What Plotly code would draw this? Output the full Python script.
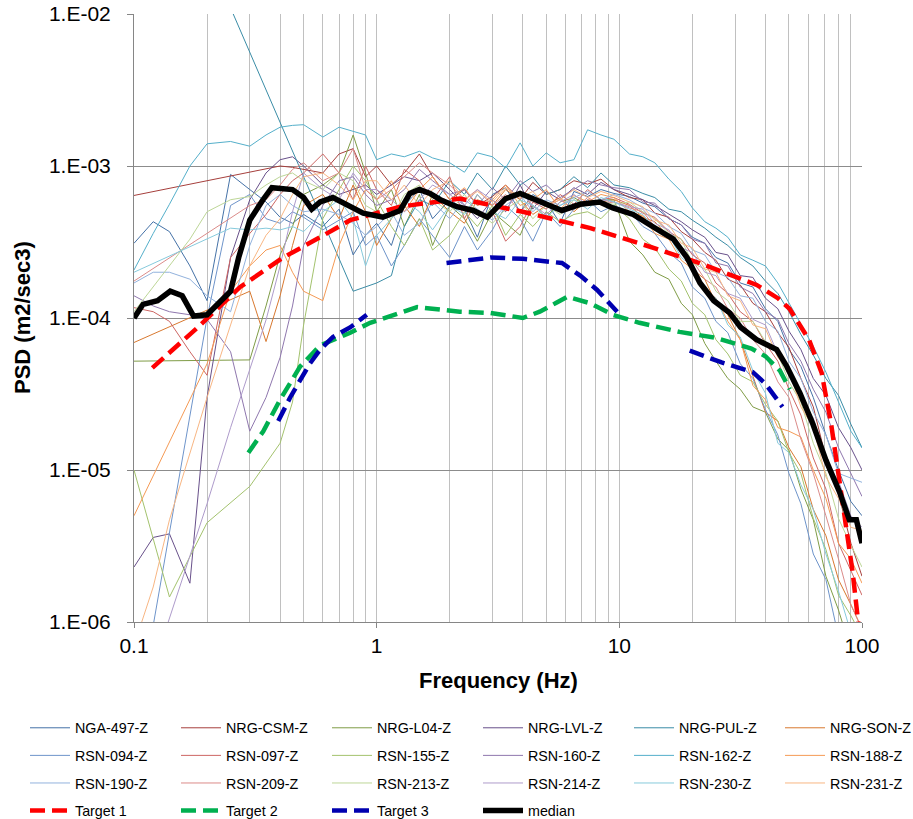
import plotly.graph_objects as go

# ---------------- data ----------------
# common frequency grid of the station spectra (Hz)
freq_hz = [0.1, 0.12, 0.14, 0.17, 0.2, 0.25, 0.3, 0.35, 0.4, 0.45,
           0.5, 0.6, 0.7, 0.8, 0.9, 1.0, 1.15, 1.3, 1.5, 1.7,
           2.0, 2.3, 2.6, 3.0, 3.4, 3.9, 4.4, 5.0, 5.7, 6.5,
           7.4, 8.4, 9.5, 11, 12.5, 14, 16, 18, 20, 22.5,
           25, 28, 31.5, 35.5, 40, 45, 50, 56, 63, 71,
           80, 90, 100]

# station PSD values in units of 1e-4 m2/sec3 (None = no sample)
psd_nga497 = [3.1, 4.3, 3.7, 2.2, 1.3, 8.8, 7.0, 5.8, 4.6, 4.2,
              4.8, 4.0, 5.2, 2.6, 3.5, 4.2, 3.0, 5.5, 7.0, 4.5,
              6.0, 5.2, 3.4, 6.5, 7.2, 5.0, 6.5, 5.8, 4.2, 6.8,
              6.3, 7.0, 6.6, 6.3, 5.7, 5.4, 4.5, 4.1, 3.4, 3.1,
              2.5, 2.3, 1.7, 1.6, 1.15, 0.95, 0.62, 0.48, 0.3, 0.17,
              0.1, 0.062, 0.05]
psd_nrgcsm = [6.4, None, None, None, None, None, None, None, 10.0, 9.8,
              9.5, 9.0, 12, 13, 8.5, 10, 7.5, 9.0, 12, 8.5,
              6.0, 7.0, 5.5, 6.3, 7.5, 6.0, 7.8, 6.5, 7.0, 8.0,
              7.6, 8.2, 7.0, 6.2, 6.0, 4.9, 4.6, 3.7, 3.3, 2.7,
              2.4, 1.8, 1.65, 1.25, 1.1, 0.8, 0.64, 0.4, 0.26, 0.12,
              0.07, 0.033, 0.02]
psd_nrgl04 = [0.52, None, None, None, None, None, 0.53, 1.2, 2.6, 4.0,
              6.5, 7.5, 9.0, 16, 9.0, 5.0, 7.0, 4.0, 6.5, 3.0,
              5.5, 4.5, 3.2, 5.0, 4.2, 3.5, 5.5, 4.6, 5.8, 6.2,
              5.5, 6.0, 6.0, 3.2, 2.6, 2.0, 1.8, 1.25, 1.05, 0.68,
              0.52, 0.4, 0.34, 0.26, 0.24, 0.16, 0.135, 0.075, 0.047, 0.02,
              0.012, 0.0065, 0.005]
psd_nrglvl = [0.023, 0.036, 0.038, 0.018, 0.3, 2.5, 6.0, 9.0, 11, 11.5,
              10, 7.5, 6.5, 7.0, 7.5, 6.5, 7.5, 8.5, 8.0, 9.0,
              7.0, 5.5, 4.5, 6.0, 5.0, 7.5, 5.2, 6.8, 6.0, 7.2,
              6.5, 7.8, 7.0, 6.5, 6.0, 5.5, 4.8, 4.3, 3.8, 3.4,
              2.7, 2.6, 1.9, 1.85, 1.35, 1.15, 0.82, 0.62, 0.4, 0.31,
              0.19, 0.14, 0.1]
psd_nrgpul = [None, None, None, None, 250, None, None, None, None, None,
              None, None, None, 1.5, None, 1.7, 1.9, 4.0, 6.0, 5.5,
              8.0, 6.5, 9.0, 7.0, 10, 7.5, 8.5, 6.5, 7.0, 8.5,
              7.2, 9.0, 7.5, 7.2, 6.6, 6.2, 5.2, 5.0, 4.4, 3.9,
              3.4, 3.0, 2.5, 2.2, 1.75, 1.45, 1.1, 0.78, 0.57, 0.4,
              0.31, 0.2, 0.14]
psd_nrgson = [0.69, None, None, None, None, None, 1.5, 0.7, 1.4, 3.0,
              5.5, 6.5, 4.5, 7.5, 5.0, 3.0, 4.5, 5.5, 4.0, 6.5,
              5.0, 4.2, 6.0, 5.5, 7.0, 6.0, 4.8, 5.5, 6.2, 5.0,
              6.0, 5.8, 6.0, 5.5, 4.6, 4.3, 3.4, 2.8, 2.1, 1.8,
              1.25, 1.05, 0.72, 0.42, 0.24, 0.21, 0.14, 0.105, 0.055, 0.037,
              0.019, 0.013, 0.009]
psd_rsn094 = [None, 0.0095, None, None, 1.0, 5.5, 6.5, 4.5, 4.2, 5.0,
              4.6, 3.8, 4.4, 5.0, 3.0, 3.5, 2.2, 3.0, 4.5, 3.5,
              2.5, 4.0, 2.8, 3.8, 5.5, 4.5, 3.2, 5.0, 4.0, 5.2,
              6.0, 5.0, 5.5, 5.0, 4.0, 3.6, 2.7, 2.3, 1.6, 1.35,
              0.95, 0.8, 0.5, 0.4, 0.25, 0.17, 0.095, 0.06, 0.028, 0.019,
              0.008, 0.005, 0.003]
psd_rsn097 = [1.17, 1.1, 0.95, 0.6, 0.42, 2.5, 3.6, 4.8, 6.5, 8.0,
              9.0, 12, 9.0, 6.0, 10, 7.0, 5.5, 9.5, 8.0, 6.0,
              8.5, 4.5, 6.5, 5.0, 3.2, 4.0, 5.8, 5.2, 6.5, 5.6,
              7.0, 6.0, 6.2, 5.6, 4.9, 4.6, 3.7, 3.3, 2.6, 2.3,
              1.7, 1.45, 1.1, 0.95, 0.68, 0.52, 0.34, 0.23, 0.12, 0.075,
              0.033, 0.022, 0.015]
psd_rsn155 = [0.1, 0.035, 0.0146, None, 0.045, None, 0.078, None, 0.15, 0.28,
              0.9, 4.5, 7.0, 10, 8.0, 6.0, 4.0, 3.0, 4.5, 2.8,
              3.5, 5.0, 4.0, 5.5, 3.5, 4.8, 4.0, 5.0, 4.3, 4.8,
              5.0, 4.5, 5.5, 4.5, 3.3, 2.9, 2.1, 1.75, 1.25, 1.05,
              0.72, 0.58, 0.42, 0.38, 0.27, 0.21, 0.13, 0.095, 0.048, 0.03,
              0.015, 0.011, 0.008]
psd_rsn160 = [1.4, 1.2, 1.1, 1.05, 0.98, 0.6, 0.18, 0.3, 0.55, 1.2,
              3.0, 5.5, 8.0, 8.5, 6.5, 5.5, 6.0, 7.0, 9.5, 8.0,
              6.5, 7.0, 5.5, 7.2, 6.0, 8.0, 6.8, 7.5, 6.2, 7.0,
              8.0, 7.5, 7.2, 7.0, 5.8, 5.7, 4.5, 4.1, 3.3, 3.1,
              2.3, 2.2, 1.6, 1.45, 1.1, 0.98, 0.68, 0.52, 0.34, 0.24,
              0.14, 0.095, 0.067]
psd_rsn162 = [2.07, 3.6, 5.6, 10, 14, 14.5, 13.5, 16, 18, 18.5,
              18.7, 15.5, 18, 17, 16, 11, 12, 11.5, 12.5, 11.3,
              10.5, 9.1, 12.2, 11.5, 9.7, 14.2, 10.0, 12.2, 10.5, 11.0,
              17.3, 16.0, 15.0, 12, 11.5, 10.5, 8.2, 6.8, 5.3, 4.3,
              3.9, 3.4, 2.6, 2.4, 2.2, 1.7, 1.25, 0.9, 0.65, 0.44,
              0.28, 0.18, 0.14]
psd_rsn188 = [0.05, None, None, None, 0.5, 1.5, 2.2, 2.8, 3.0, 2.0,
              1.5, 1.3, 3.0, 5.0, 7.0, 6.0, 8.0, 5.0, 7.0, 8.5,
              6.0, 7.2, 5.5, 6.0, 7.5, 5.5, 6.0, 7.0, 5.2, 6.4,
              5.8, 6.5, 6.2, 5.0, 4.7, 3.6, 3.3, 2.4, 2.1, 1.55,
              1.35, 0.95, 0.72, 0.36, 0.29, 0.19, 0.18, 0.165, 0.1, 0.065,
              0.033, 0.026, 0.018]
psd_rsn190 = [1.7, 2.0, 2.0, 1.8, 1.4, 1.1, 3.0, 5.5, 6.5, 5.5,
              5.0, 5.2, 4.8, 4.2, 3.5, 4.0, 5.0, 3.5, 4.2, 5.8,
              4.5, 6.0, 5.2, 4.4, 5.5, 6.5, 5.0, 6.0, 5.5, 6.2,
              6.8, 6.0, 6.5, 6.0, 5.3, 4.9, 4.0, 3.6, 2.8, 2.6,
              2.0, 1.85, 1.4, 1.35, 0.95, 0.82, 0.52, 0.4, 0.24, 0.17,
              0.095, 0.088, 0.083]
psd_rsn209 = [1.75, None, None, None, None, None, 5.5, 6.0, 7.5, 9.5,
              10.5, 8.0, 9.0, 13, 7.0, 6.0, 7.0, 8.5, 10.5, 9.0,
              7.5, 6.0, 7.0, 5.5, 6.5, 5.0, 6.0, 5.4, 6.0, 5.2,
              6.2, 5.6, 5.8, 5.3, 5.0, 4.0, 3.5, 2.8, 2.4, 1.8,
              1.6, 1.15, 1.0, 0.72, 0.58, 0.38, 0.3, 0.16, 0.095, 0.05,
              0.026, 0.013, 0.009]
psd_rsn213 = [1.1, 1.6, 2.2, 3.3, 5.0, 6.0, 6.3, 7.5, 8.5, 9.0,
              8.0, 7.0, 9.0, 8.0, 5.5, 5.0, 4.5, 6.5, 7.5, 6.0,
              5.0, 6.5, 5.0, 4.2, 5.2, 6.0, 4.5, 5.5, 4.8, 6.0,
              5.5, 5.8, 5.6, 5.8, 5.0, 4.5, 3.6, 3.3, 2.3, 2.1,
              1.5, 1.3, 0.95, 0.95, 0.7, 0.58, 0.38, 0.28, 0.15, 0.095,
              0.048, 0.032, 0.023]
psd_rsn214 = [None, 0.005, None, None, 0.06, 0.19, 0.46, 0.97, 2.2, 5.0,
              9.0, 7.0, 6.0, 9.0, 7.0, 7.0, 6.0, 5.0, 6.0, 7.5,
              6.5, 5.5, 7.0, 6.0, 5.2, 6.8, 5.5, 4.8, 5.8, 6.5,
              5.5, 6.0, 5.8, 5.4, 5.2, 4.2, 3.8, 2.9, 2.7, 2.0,
              1.9, 1.45, 1.35, 0.98, 0.9, 0.58, 0.48, 0.29, 0.22, 0.11,
              0.085, 0.05, 0.042]
psd_rsn230 = [2.0, None, None, None, None, 3.9, 3.8, 3.9, 3.8, 4.0,
              3.7, 5.0, 6.0, 4.5, 2.2, 3.5, 4.5, 6.0, 5.0, 3.8,
              5.5, 4.8, 6.5, 5.0, 4.5, 6.0, 5.5, 4.6, 5.5, 6.0,
              5.2, 6.2, 5.8, 5.2, 4.8, 3.9, 3.5, 2.5, 2.2, 1.5,
              1.35, 0.9, 0.75, 0.45, 0.32, 0.15, 0.13, 0.08, 0.055, 0.028,
              0.016, 0.0085, 0.006]
psd_rsn231 = [0.007, 0.017, 0.047, 0.13, 0.3, 0.9, 2.2, 3.5, 4.5, 6.5,
              8.5, 9.0, 7.5, 6.0, 8.0, 8.0, 6.0, 7.5, 5.5, 7.0,
              8.0, 6.0, 6.8, 5.8, 7.2, 6.2, 6.8, 5.5, 6.0, 7.0,
              6.2, 6.8, 6.4, 5.8, 5.4, 4.4, 4.1, 3.1, 2.9, 2.1,
              2.0, 1.4, 1.3, 0.9, 0.85, 0.55, 0.45, 0.26, 0.19, 0.09,
              0.065, 0.042, 0.04]

station_names = ["NGA-497-Z", "NRG-CSM-Z", "NRG-L04-Z", "NRG-LVL-Z", "NRG-PUL-Z", "NRG-SON-Z",
                 "RSN-094-Z", "RSN-097-Z", "RSN-155-Z", "RSN-160-Z", "RSN-162-Z", "RSN-188-Z",
                 "RSN-190-Z", "RSN-209-Z", "RSN-213-Z", "RSN-214-Z", "RSN-230-Z", "RSN-231-Z"]
station_values = [psd_nga497, psd_nrgcsm, psd_nrgl04, psd_nrglvl, psd_nrgpul, psd_nrgson,
                  psd_rsn094, psd_rsn097, psd_rsn155, psd_rsn160, psd_rsn162, psd_rsn188,
                  psd_rsn190, psd_rsn209, psd_rsn213, psd_rsn214, psd_rsn230, psd_rsn231]
station_colors = ["#4572A7", "#A63F3C", "#7F9C46", "#68508A", "#3A8CA6", "#D8782F",
                  "#6E94CA", "#CD6663", "#A3C26D", "#8F77AE", "#54AFCA", "#F59A55",
                  "#92B2DD", "#DB8B89", "#BDD697", "#AE9BCB", "#86CADC", "#F8B683"]

target1_freq = [0.119, 0.182, 0.274, 0.412, 0.585, 0.778, 1.25, 2.2, 4.0, 7.6,
                12.1, 21.4, 36.8, 45, 50.3, 60.5, 68.2, 74.5, 79.9, 85.8,
                91.6, 95.5, 100]
target1_psd = [4.7e-5, 8.6e-5, 1.6e-4, 2.5e-4, 3.4e-4, 4.4e-4, 5.4e-4, 6.1e-4, 5.0e-4, 3.9e-4,
               3.1e-4, 2.3e-4, 1.65e-4, 1.35e-4, 1.15e-4, 7.2e-5, 4.35e-5, 2.04e-5, 9.5e-6, 4.5e-6,
               2.1e-6, 1.15e-6, 6e-7]

target2_freq = [0.296, 0.341, 0.4, 0.484, 0.585, 0.778, 0.94, 1.47, 2.2, 2.95,
                4.0, 4.7, 5.5, 6.1, 7.6, 9.4, 12.1, 17.7, 25, 35,
                40, 45.9, 50.4]
target2_psd = [1.3e-5, 1.8e-5, 2.9e-5, 4.8e-5, 6.6e-5, 8.0e-5, 9.3e-5, 1.18e-4, 1.1e-4, 1.08e-4,
               1.0e-4, 1.1e-4, 1.26e-4, 1.38e-4, 1.25e-4, 1.05e-4, 9.3e-5, 8.1e-5, 7.4e-5, 6.3e-5,
               5.6e-5, 4.5e-5, 3.4e-5]

target3_freq = [0.393, 0.44, 0.484, 0.53, 0.585, 0.66, 0.78, 0.91, 1.4, 1.94,
                2.5, 2.95, 4.0, 5.8, 6.9, 8.1, 9.8, 14, 19.5, 26.4,
                35.5, 40, 47]
target3_psd = [2.1e-5, 3.0e-5, 3.9e-5, 5.0e-5, 6.2e-5, 7.5e-5, 8.7e-5, 1.05e-4, None, 2.3e-4,
               2.4e-4, 2.5e-4, 2.45e-4, 2.3e-4, 1.9e-4, 1.53e-4, 1.1e-4, None, 6.1e-5, 5.1e-5,
               4.4e-5, 3.7e-5, 2.6e-5]

median_freq = [0.1, 0.109, 0.125, 0.141, 0.158, 0.176, 0.2, 0.227, 0.25, 0.27,
               0.3, 0.34, 0.37, 0.45, 0.5, 0.54, 0.585, 0.66, 0.73, 0.88,
               1.06, 1.25, 1.37, 1.5, 1.66, 1.83, 2.14, 2.5, 2.86, 3.4,
               3.9, 4.7, 5.8, 6.9, 8.3, 9.4, 11.4, 13.7, 16.7, 19,
               21.5, 24.5, 28.5, 31.6, 36.8, 44.5, 49, 55.5, 62.8, 71,
               80.7, 88.7, 94.8, 100]
median_psd = [1.0e-4, 1.23e-4, 1.3e-4, 1.5e-4, 1.4e-4, 1.03e-4, 1.05e-4, 1.3e-4, 1.5e-4, 2.5e-4,
              4.4e-4, 6.0e-4, 7.2e-4, 7.0e-4, 6.2e-4, 5.2e-4, 5.8e-4, 6.2e-4, 5.7e-4, 4.9e-4,
              4.6e-4, 5.1e-4, 6.6e-4, 7.0e-4, 6.6e-4, 6.0e-4, 5.4e-4, 5.1e-4, 4.6e-4, 6.1e-4,
              6.6e-4, 5.8e-4, 5.1e-4, 5.6e-4, 5.8e-4, 5.3e-4, 4.8e-4, 4.0e-4, 3.3e-4, 2.5e-4,
              1.7e-4, 1.3e-4, 1.08e-4, 8.7e-5, 7.2e-5, 6.2e-5, 4.8e-5, 3.2e-5, 2.0e-5, 1.16e-5,
              7.2e-6, 4.7e-6, 4.7e-6, 3.3e-6]

x_major = [0.1, 1, 10, 100]
x_labels = ["0.1", "1", "10", "100"]
x_minor = [0.2, 0.3, 0.4, 0.5, 0.6, 0.7, 0.8, 0.9,
           2, 3, 4, 5, 6, 7, 8, 9,
           20, 30, 40, 50, 60, 70, 80, 90]
y_major = [1e-6, 1e-5, 1e-4, 1e-3, 1e-2]
y_labels = ["1.E-06", "1.E-05", "1.E-04", "1.E-03", "1.E-02"]

# ---------------- figure ----------------
FONT = "Arial, 'Liberation Sans', sans-serif"
LEG_FONT = 14.3
legend_keys = ["legend", "legend2", "legend3", "legend4", "legend5", "legend6"]

fig = go.Figure()

for i, (name, vals, col) in enumerate(zip(station_names, station_values, station_colors)):
    yv = [None if v is None else v * 1e-4 for v in vals]
    fig.add_trace(go.Scatter(
        x=freq_hz, y=yv, mode="lines", name=name, connectgaps=True,
        line=dict(color=col, width=1),
        legend=legend_keys[i % 6], legendgroup=name))

targets = [("Target 1", target1_freq, target1_psd, "#FF0000"),
           ("Target 2", target2_freq, target2_psd, "#00B050"),
           ("Target 3", target3_freq, target3_psd, "#0000B0")]
for j, (name, fx, fy, col) in enumerate(targets):
    fig.add_trace(go.Scatter(
        x=fx, y=fy, mode="lines", name=name, connectgaps=False,
        line=dict(color=col, width=4.5, dash="15px,7px"),
        legend=legend_keys[j], legendgroup=name))

fig.add_trace(go.Scatter(
    x=median_freq, y=median_psd, mode="lines", name="median",
    line=dict(color="black", width=5.5),
    legend=legend_keys[3], legendgroup="median"))

col_left_px = [25, 176, 327, 478, 629, 780]
leg_layout = {}
for c, key in enumerate(legend_keys):
    leg_layout[key] = dict(
        orientation="v", xref="container", yref="container",
        x=col_left_px[c] / 913, y=1 - 712 / 819, xanchor="left", yanchor="top",
        bgcolor="rgba(0,0,0,0)", borderwidth=0, tracegroupgap=6, itemwidth=40,
        font=dict(family=FONT, size=LEG_FONT, color="black"))

fig.update_layout(
    width=913, height=819,
    margin=dict(l=134, r=51, t=14, b=197, autoexpand=False),
    paper_bgcolor="white", plot_bgcolor="white",
    font=dict(family=FONT, color="black"),
    showlegend=True,
    **leg_layout,
)

fig.update_xaxes(
    type="log", range=[-1, 2],
    tickmode="array", tickvals=x_major, ticktext=x_labels,
    ticks="outside", ticklen=5, tickcolor="#868686", tickwidth=1,
    tickfont=dict(family=FONT, size=21, color="black"),
    showline=True, linecolor="#868686", linewidth=1,
    showgrid=True, gridcolor="#C0C0C0", gridwidth=1,
    minor=dict(tickmode="array", tickvals=x_minor, showgrid=True,
               gridcolor="#C0C0C0", gridwidth=1, ticks=""),
    zeroline=False,
)
fig.update_yaxes(
    type="log", range=[-6, -2],
    tickmode="array", tickvals=y_major, ticktext=y_labels,
    ticks="outside", ticklen=6, tickcolor="#868686", tickwidth=1,
    ticklabelstandoff=12,
    tickfont=dict(family=FONT, size=21, color="black"),
    showline=True, linecolor="#868686", linewidth=1,
    showgrid=True, gridcolor="#8C8C8C", gridwidth=1,
    zeroline=False,
)

fig.add_annotation(
    text="<b>Frequency (Hz)</b>", xref="paper", yref="paper",
    x=0.5, y=(622 - 680) / 608, xanchor="center", yanchor="middle",
    showarrow=False, font=dict(family=FONT, size=22, color="black"))
fig.add_annotation(
    text="<b>PSD (m2/sec3)</b>", xref="paper", yref="paper",
    x=(22 - 134) / 728, y=0.5, xanchor="center", yanchor="middle",
    textangle=-90, showarrow=False, font=dict(family=FONT, size=22, color="black"))

fig.write_html("out.html")
